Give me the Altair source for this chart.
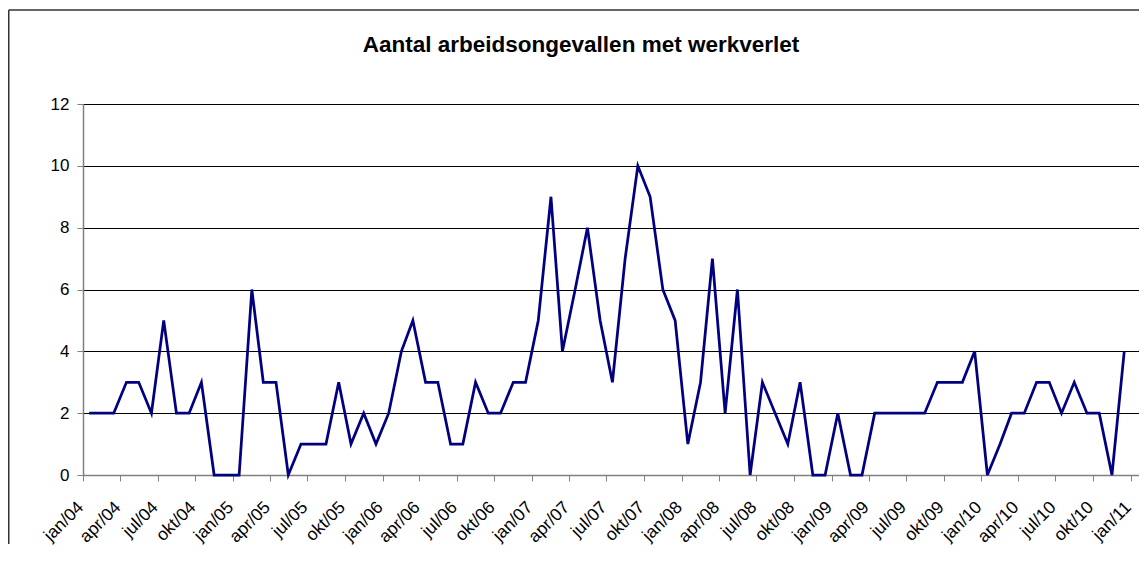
import json
import altair as alt
import pandas as pd

TITLE = "Aantal arbeidsongevallen met werkverlet"
MONTH_NAMES = ["jan", "feb", "mrt", "apr", "mei", "jun",
               "jul", "aug", "sep", "okt", "nov", "dec"]
YEARS = [2004, 2005, 2006, 2007, 2008, 2009, 2010]
V2004 = [2, 2, 2, 3, 3, 2, 5, 2, 2, 3, 0, 0]
V2005 = [0, 6, 3, 3, 0, 1, 1, 1, 3, 1, 2, 1]
V2006 = [2, 4, 5, 3, 3, 1, 1, 3, 2, 2, 3, 3]
V2007 = [5, 9, 4, 6, 8, 5, 3, 7, 10, 9, 6, 5]
V2008 = [1, 3, 7, 2, 6, 0, 3, 2, 1, 3, 0, 0]
V2009 = [2, 0, 0, 2, 2, 2, 2, 2, 3, 3, 3, 4]
V2010 = [0, 1, 2, 2, 3, 3, 2, 3, 2, 2, 0, 4]
Y_TICKS = [0, 2, 4, 6, 8, 10, 12]

rows = []
for year, vals in zip(YEARS, [V2004, V2005, V2006, V2007, V2008, V2009, V2010]):
    for m, v in enumerate(vals):
        rows.append({"maand": f"{year}-{m + 1:02d}-16", "aantal": v})
df = pd.DataFrame(rows)

tick_dates = []
for year in range(2004, 2012):
    for month in (1, 4, 7, 10):
        if year == 2011 and month > 1:
            break
        tick_dates.append(alt.DateTime(year=year, month=month, date=1, utc=True))

label_expr = (json.dumps(MONTH_NAMES).replace('"', "'")
              + "[utcmonth(datum.value)] + '/' + utcFormat(datum.value, '%y')")

FONT = "Liberation Sans"
AXIS_GREY = "#808080"

line = alt.Chart(df).mark_line(color="#000080", strokeWidth=2.75).encode(
    x=alt.X(
        "maand:T",
        scale=alt.Scale(
            type="utc",
            domain=[alt.DateTime(year=2004, month=1, date=1, utc=True),
                    alt.DateTime(year=2011, month=1, date=21, utc=True)],
            nice=False,
        ),
        axis=alt.Axis(
            values=tick_dates,
            labelExpr=label_expr,
            title=None,
            grid=False,
            domainColor=AXIS_GREY,
            domainWidth=1.5,
            tickColor=AXIS_GREY,
            tickWidth=1,
            tickSize=6,
            labelAngle=-45,
            labelAlign="right",
            labelBaseline="top",
            labelFont=FONT,
            labelFontSize=17.5,
            labelColor="#000000",
            labelPadding=17,
            labelOffset=-9,
            labelOverlap=False,
            labelFlush=False,
            labelBound=False,
        ),
    ),
    y=alt.Y(
        "aantal:Q",
        scale=alt.Scale(domain=[0, 12], nice=False, zero=True),
        axis=alt.Axis(
            values=Y_TICKS,
            title=None,
            grid=True,
            gridColor="#000000",
            gridWidth=1,
            gridOpacity=1,
            domainColor=AXIS_GREY,
            domainWidth=1.5,
            tickColor=AXIS_GREY,
            tickWidth=1,
            tickSize=6,
            labelFont=FONT,
            labelFontSize=17,
            labelColor="#000000",
            labelPadding=8,
        ),
    ),
)

deco = alt.Data(values=[{"k": 1}])

title = alt.Chart(deco).mark_text(
    text=TITLE, font=FONT, fontSize=22.5, fontWeight="bold",
    align="center", baseline="alphabetic", color="#000000",
).encode(x=alt.value(498), y=alt.value(-52))

border_left = alt.Chart(deco).mark_rule(color="#333333", strokeWidth=1.5).encode(
    x=alt.value(-74.25), x2=alt.value(-74.25), y=alt.value(-94), y2=alt.value(440)
)
border_top = alt.Chart(deco).mark_rule(color="#333333", strokeWidth=1.5).encode(
    x=alt.value(-74.25), x2=alt.value(1056), y=alt.value(-94), y2=alt.value(-94)
)

chart = alt.layer(line, title, border_left, border_top).properties(
    width=1056,
    height=371,
    autosize=alt.AutoSizeParams(type="none"),
    padding={"left": 75, "top": 96, "right": 0, "bottom": 70},
    background="#ffffff",
).configure_view(stroke=None)

chart.save("out.html", embed_options={"renderer": "svg", "actions": False})
